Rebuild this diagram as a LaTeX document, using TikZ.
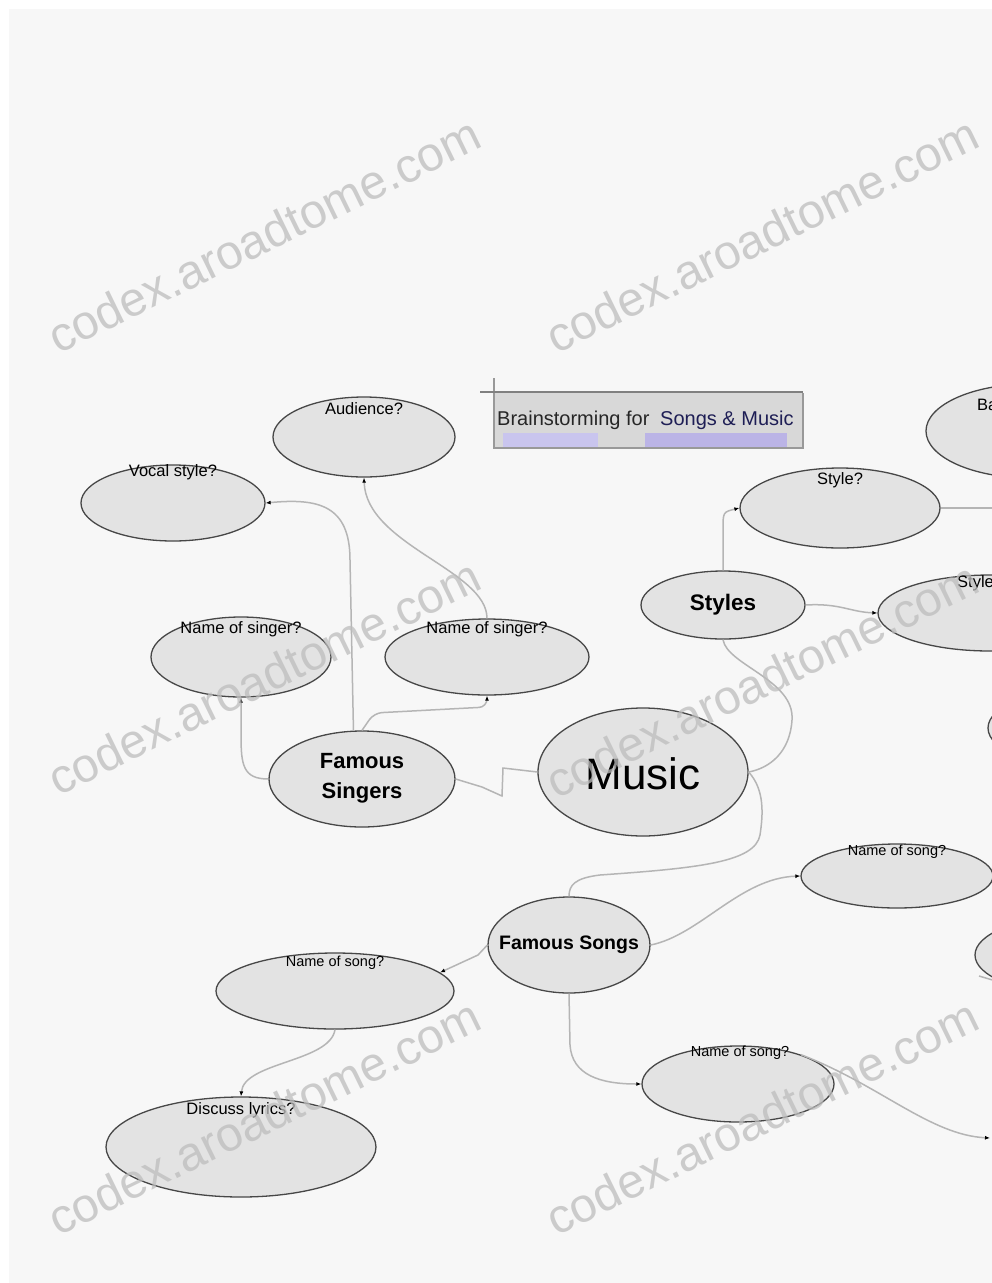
\documentclass[tikz,border=0pt]{standalone}
\usepackage{fontspec}
\setmainfont{Liberation Sans}
\usetikzlibrary{shapes.geometric,arrows.meta}
\definecolor{bgcol}{HTML}{F7F7F7}
\definecolor{bubfill}{HTML}{E3E3E3}
\definecolor{bubline}{HTML}{474747}
\definecolor{linegray}{HTML}{B5B5B5}
\definecolor{wmgray}{HTML}{BDBDBD}
\definecolor{boxgray}{HTML}{D8D8D8}
\definecolor{purpa}{HTML}{C9C5EE}
\definecolor{purpb}{HTML}{BBB4E6}
\definecolor{navy}{HTML}{1E1E55}
\tikzset{
  bub/.style={ellipse, draw=bubline, line width=1.3pt, fill=bubfill, inner sep=0pt},
  lab/.style={inner sep=0pt, font=\fontsize{16.5}{18}\selectfont},
  slab/.style={inner sep=0pt, font=\fontsize{14.5}{16}\selectfont},
  bigtxt/.style={inner sep=0pt, font=\bfseries\fontsize{22}{30}\selectfont, align=center},
  conn/.style={draw=linegray, line width=1.5pt},
  arrtip/.style={-{Latex[length=5pt,width=4pt,color=black]}},
  wmark/.style={text=wmgray, font=\fontsize{48}{50}\selectfont, rotate=26, inner sep=0pt, opacity=0.75},
}
\begin{document}
\begin{tikzpicture}[x=1pt,y=-1pt]
\useasboundingbox (0,0) rectangle (992,1283);
\clip (0,0) rectangle (992,1283);
\fill[white] (0,0) rectangle (992,1283);
\fill[bgcol] (9,9) rectangle (992,1283);

% title box
\fill[boxgray] (494,393) rectangle (803,448);
\fill[purpa] (503,433) rectangle (598,447);
\fill[purpb] (645,433) rectangle (787,447);
\draw[black!40, line width=1.5pt] (494,378) -- (494,448) -- (803,448) -- (803,393);
\draw[black!50, line width=2pt] (480,392) -- (803,392);
\node[anchor=west, inner sep=0pt, font=\fontsize{20}{22}\selectfont, text=black!85] (ttla) at (497,420) {Brainstorming for};
\node[anchor=west, inner sep=0pt, font=\fontsize{20}{22}\selectfont, text=navy] (ttlb) at (660,420) {Songs \& Music};

% bubbles
\node[bub, minimum width=182pt, minimum height=80pt] (aud) at (364,437) {};
\node[bub, minimum width=184pt, minimum height=76pt] (voc) at (173,503) {};
\node[bub, minimum width=180pt, minimum height=80pt] (nsl) at (241,657) {};
\node[bub, minimum width=204pt, minimum height=76pt] (nsr) at (487,657) {};
\node[bub, minimum width=186pt, minimum height=96pt] (fsi) at (362,779) {};
\node[bub, minimum width=210pt, minimum height=128pt] (mus) at (643,772) {};
\node[bub, minimum width=164pt, minimum height=68pt] (sty) at (723,605) {};
\node[bub, minimum width=200pt, minimum height=80pt] (styq) at (840,508) {};
\node[bub, minimum width=224pt, minimum height=76pt] (styr) at (990,613) {};
\node[bub, minimum width=208pt, minimum height=94pt] (br) at (1030,431) {};
\node[bub, minimum width=204pt, minimum height=80pt] (prta) at (1090,728) {};
\node[bub, minimum width=192pt, minimum height=64pt] (nsor) at (897,876) {};
\node[bub, minimum width=162pt, minimum height=96pt] (fso) at (569,945) {};
\node[bub, minimum width=238pt, minimum height=76pt] (nsol) at (335,991) {};
\node[bub, minimum width=270pt, minimum height=100pt] (disc) at (241,1147) {};
\node[bub, minimum width=192pt, minimum height=76pt] (nsob) at (738,1084) {};
\node[bub, minimum width=190pt, minimum height=76pt] (prtb) at (1070,955) {};

% texts
\node[bigtxt] (fsit) at (362,778) {Famous\\Singers};
\node[inner sep=0pt, font=\fontsize{44}{48}\selectfont] (must) at (643,774) {Music};
\node[inner sep=0pt, font=\bfseries\fontsize{22.5}{24}\selectfont] (styt) at (723,605) {Styles};
\node[inner sep=0pt, font=\bfseries\fontsize{19.5}{22}\selectfont] (fsot) at (569,945) {Famous Songs};

\node[lab] (audl) at (364,409) {Audience?};
\node[lab] (vocl) at (173,472) {Vocal style?};
\node[lab] (nsll) at (241,629) {Name of singer?};
\node[lab] (nsrl) at (487,629) {Name of singer?};
\node[lab] (styql) at (840,480) {Style?};
\node[lab, anchor=west] (styrl) at (957,583) {Style?};
\node[lab, anchor=west] (brl) at (977,405) {Ba};
\node[slab] (nsorl) at (897,852) {Name of song?};
\node[slab] (nsoll) at (335,963) {Name of song?};
\node[slab] (nsobl) at (740,1053) {Name of song?};
\node[lab] (discl) at (241,1110) {Discuss lyrics?};

% connectors
\coordinate (edgea) at (1000,508);
\coordinate (edgeb) at (990,1138);
\coordinate (edgec) at (979,976);
\draw[conn] (mus.west) -- (503,768) -- (502,796) -- (482,787) -- (fsi.east);
\draw[conn,arrtip] (fsi.west) .. controls (243,779) and (241,765) .. (241,735) -- (nsl.south);
\draw[conn,arrtip,rounded corners=8pt] (fsi.north) -- (374,713) -- (487,707) -- (nsr.south);
\draw[conn,arrtip] (fsi.100) -- (350,560) .. controls (350,505) and (318,498) .. (voc.east);
\draw[conn,arrtip] (nsr.north) .. controls (487,570) and (366,545) .. (aud.south);
\draw[conn,arrtip] (sty.north) -- (723,530) .. controls (723,512) .. (styq.west);
\draw[conn,arrtip] (sty.east) .. controls (840,603) and (850,612) .. (styr.west);
\draw[conn] (styq.east) -- (edgea);
\draw[conn] (sty.south) .. controls (727,665) and (795,680) .. (792,720) .. controls (790,752) and (770,768) .. (mus.east);
\draw[conn] (mus.east) .. controls (765,790) and (763,815) .. (760,835) .. controls (755,862) and (700,868) .. (600,875) .. controls (575,878) and (569,885) .. (fso.north);
\draw[conn,arrtip] (fso.east) .. controls (700,935) and (740,878) .. (nsor.west);
\draw[conn,arrtip] (fso.west) -- (478,955) -- (nsol.10);
\draw[conn,arrtip] (fso.south) -- (570,1045) .. controls (572,1075) and (600,1084) .. (nsob.west);
\draw[conn,arrtip] (nsol.south) .. controls (330,1062) and (244,1062) .. (disc.north);
\draw[conn,arrtip] (nsob.25) .. controls (880,1085) and (930,1135) .. (edgeb);
\draw[conn,arrtip] (edgec) -- (prtb.210);

% watermarks
\node[wmark] (wma) at (264,235) {codex.aroadtome.com};
\node[wmark] (wmb) at (762,235) {codex.aroadtome.com};
\node[wmark] (wmc) at (264,677) {codex.aroadtome.com};
\node[wmark] (wmd) at (762,680) {codex.aroadtome.com};
\node[wmark] (wme) at (264,1117) {codex.aroadtome.com};
\node[wmark] (wmf) at (762,1117) {codex.aroadtome.com};
\end{tikzpicture}
\end{document}
